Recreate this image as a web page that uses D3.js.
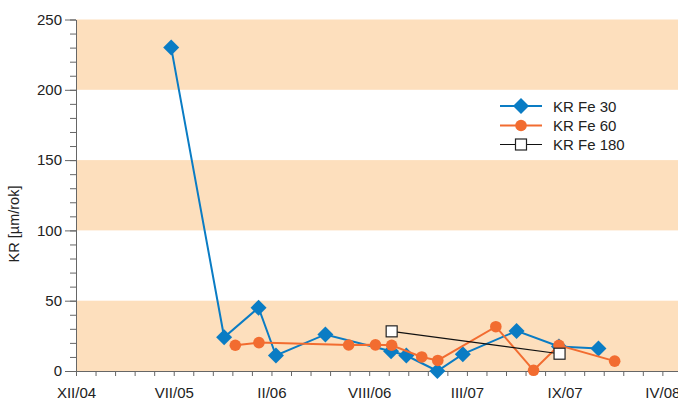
<!DOCTYPE html>
<html>
<head>
<meta charset="utf-8">
<script src="https://cdn.jsdelivr.net/npm/d3@7"></script>
<style>
  html, body { margin: 0; padding: 0; background: #fff; }
  svg { display: block; font-family: "Liberation Sans", Arial, Helvetica, sans-serif; }
</style>
</head>
<body>
<svg id="chart" width="678" height="401"></svg>
<script>
// Sampling positions along the time axis (one unit = one tick interval)
const fe30X = [4.87, 7.58, 9.34, 10.23, 12.76, 16.12, 16.9, 18.49, 19.79, 22.54, 24.71, 26.73];
const fe30Y = [230, 24, 45, 11, 26, 14, 11, 0, 12, 28.5, 17.5, 16];

const fe60X = [8.15, 9.36, 13.95, 15.32, 16.15, 17.69, 18.51, 21.48, 23.41, 24.71, 27.56];
const fe60Y = [18.3, 20.2, 18.5, 18.6, 18.3, 10, 7.5, 31.5, 0.5, 18.3, 7];

const fe180X = [16.15, 24.74];
const fe180Y = [28.2, 12.3];

const xTickLabels = ["XII/04", "VII/05", "II/06", "VIII/06", "III/07", "IX/07", "IV/08"];
const yMajorTicks = [0, 50, 100, 150, 200, 250];
const bandRanges = [[0, 50], [100, 150], [200, 250]];
const seriesNames = ["KR Fe 30", "KR Fe 60", "KR Fe 180"];

const plotLeft = 76, plotRight = 678, plotTop = 19.5, plotBottom = 371;

const svg = d3.select("#chart");

const x = d3.scaleLinear().domain([0, 30.8]).range([plotLeft, plotRight]);
const y = d3.scaleLinear().domain([0, 250]).range([plotBottom, plotTop]);

const BLUE = "#0a7cc4";
const ORANGE = "#f26c30";
const BAND = "#fddfbd";
const AXIS = "#666";
const TEXT = "#222";

// Alternating background bands
svg.append("g").selectAll("rect").data(bandRanges).join("rect")
  .attr("x", x(0)).attr("width", plotRight - x(0))
  .attr("y", d => y(d[1])).attr("height", d => y(d[0]) - y(d[1]))
  .attr("fill", BAND);

// Y axis: minor ticks every 10, labelled major ticks every 50
const yMinor = d3.axisLeft(y).tickValues(d3.range(0, 251, 10)).tickSize(6).tickSizeOuter(0).tickFormat("");
const yMajor = d3.axisLeft(y).tickValues(yMajorTicks).tickSize(11).tickSizeOuter(0).tickPadding(3);

const gyMinor = svg.append("g").attr("transform", `translate(${plotLeft},0)`).call(yMinor);
const gyMajor = svg.append("g").attr("transform", `translate(${plotLeft},0)`).call(yMajor);

// X axis: a tick every interval, label every fifth tick
const xAxis = d3.axisBottom(x).tickValues(d3.range(0, 31, 1)).tickSize(5).tickSizeOuter(0).tickPadding(11)
  .tickFormat(d => d % 5 === 0 ? xTickLabels[d / 5] : "");
const gx = svg.append("g").attr("transform", `translate(0,${plotBottom})`).call(xAxis);

[gyMinor, gyMajor, gx].forEach(g => {
  g.selectAll("path, line").attr("stroke", AXIS).attr("stroke-width", 1);
  g.selectAll("text").attr("fill", TEXT).style("font-size", "15px")
    .style("font-family", '"Liberation Sans", Arial, sans-serif');
});

// Y axis title
svg.append("text")
  .attr("transform", `translate(19,${224}) rotate(-90)`)
  .attr("text-anchor", "middle")
  .attr("fill", TEXT)
  .style("font-size", "14.5px")
  .text("KR [\u00b5m/rok]");

const line = d3.line().x(d => x(d[0])).y(d => y(d[1]));
const zip = (a, b) => a.map((v, i) => [v, b[i]]);

const fe30 = zip(fe30X, fe30Y);
const fe60 = zip(fe60X, fe60Y);
const fe180 = zip(fe180X, fe180Y);

const diamond = s => `M0,${-s} L${s},0 L0,${s} L${-s},0 Z`;

// KR Fe 30
svg.append("path").datum(fe30).attr("d", line).attr("fill", "none")
  .attr("stroke", BLUE).attr("stroke-width", 2);
svg.append("g").selectAll("path").data(fe30).join("path")
  .attr("transform", d => `translate(${x(d[0])},${y(d[1])})`)
  .attr("d", diamond(8)).attr("fill", BLUE);

// KR Fe 60
svg.append("path").datum(fe60).attr("d", line).attr("fill", "none")
  .attr("stroke", ORANGE).attr("stroke-width", 2);
svg.append("g").selectAll("circle").data(fe60).join("circle")
  .attr("cx", d => x(d[0])).attr("cy", d => y(d[1])).attr("r", 5.8)
  .attr("fill", ORANGE);

// KR Fe 180
svg.append("path").datum(fe180).attr("d", line).attr("fill", "none")
  .attr("stroke", "#111").attr("stroke-width", 1.1);
svg.append("g").selectAll("rect").data(fe180).join("rect")
  .attr("x", d => x(d[0]) - 5.5).attr("y", d => y(d[1]) - 5.5)
  .attr("width", 11).attr("height", 11)
  .attr("fill", "#fff").attr("stroke", "#222").attr("stroke-width", 1.2);

// Legend
const legend = svg.append("g");
const ly = [106, 125.5, 144.5];
const lx0 = 500, lx1 = 542, lxc = 521;

legend.append("line").attr("x1", lx0).attr("x2", lx1).attr("y1", ly[0]).attr("y2", ly[0])
  .attr("stroke", BLUE).attr("stroke-width", 2);
legend.append("path").attr("transform", `translate(${lxc},${ly[0]})`).attr("d", diamond(8)).attr("fill", BLUE);

legend.append("line").attr("x1", lx0).attr("x2", lx1).attr("y1", ly[1]).attr("y2", ly[1])
  .attr("stroke", ORANGE).attr("stroke-width", 2);
legend.append("circle").attr("cx", lxc).attr("cy", ly[1]).attr("r", 5.8).attr("fill", ORANGE);

legend.append("line").attr("x1", lx0).attr("x2", lx1).attr("y1", ly[2]).attr("y2", ly[2])
  .attr("stroke", "#111").attr("stroke-width", 1.1);
legend.append("rect").attr("x", lxc - 5.5).attr("y", ly[2] - 5.5).attr("width", 11).attr("height", 11)
  .attr("fill", "#fff").attr("stroke", "#222").attr("stroke-width", 1.2);

legend.selectAll("text").data(seriesNames).join("text")
  .attr("x", 553).attr("y", (d, i) => ly[i] + 5.5)
  .attr("fill", TEXT).style("font-size", "15px")
  .text(d => d);
</script>
</body>
</html>
